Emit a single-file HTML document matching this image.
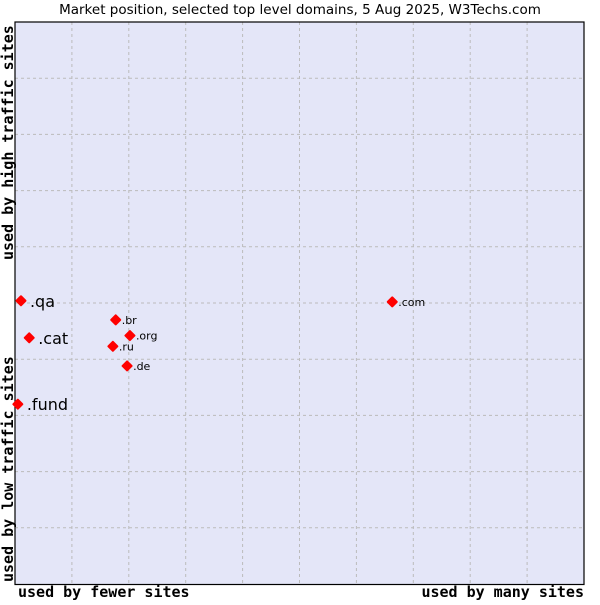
<!DOCTYPE html>
<html><head><meta charset="utf-8"><style>
body{margin:0;background:#fff;}
svg text{font-family:"DejaVu Sans","Liberation Sans",sans-serif;}
.mono{font-family:"DejaVu Sans Mono","Liberation Mono",monospace !important;font-size:15px;font-weight:bold;}
</style></head><body>
<svg width="600" height="600" xmlns="http://www.w3.org/2000/svg">
<text x="300" y="14" text-anchor="middle" font-size="13.5">Market position, selected top level domains, 5 Aug 2025, W3Techs.com</text>
<rect x="15" y="22" width="569" height="562" fill="#e4e6f8"/>
<g id="grid"></g>
<rect x="15" y="22" width="569" height="562.5" fill="none" stroke="#000" stroke-width="1.2"/>
<g id="pts"></g>
<text class="mono" x="18" y="597">used by fewer sites</text>
<text class="mono" x="584" y="597" text-anchor="end">used by many sites</text>
<text class="mono" transform="translate(13,260) rotate(-90)">used by high traffic sites</text>
<text class="mono" transform="translate(13,582) rotate(-90)">used by low traffic sites</text>
</svg>
<script>
const labels=[".qa",".cat",".fund",".br",".org",".ru",".de",".com"];
const xVals=[1.05,2.5,0.5,17.7,20.2,17.2,19.7,66.3];
const yVals=[50.4,43.8,32.0,47.0,44.2,42.3,38.8,50.2];
const bigLabel=[true,true,true,false,false,false,false,false];
const L=15,R=584,T=22,B=584;
const sx=v=>L+v/100*(R-L), sy=v=>B-v/100*(B-T);
const NS="http://www.w3.org/2000/svg";
const grid=document.getElementById('grid');
for(let i=1;i<10;i++){
 let l=document.createElementNS(NS,'line');
 l.setAttribute('x1',sx(i*10));l.setAttribute('x2',sx(i*10));l.setAttribute('y1',T);l.setAttribute('y2',B);
 l.setAttribute('stroke','#bbb');l.setAttribute('stroke-dasharray','3,3');
 
 
 grid.appendChild(l);
 let h=document.createElementNS(NS,'line');
 h.setAttribute('y1',sy(i*10));h.setAttribute('y2',sy(i*10));h.setAttribute('x1',L);h.setAttribute('x2',R);
 h.setAttribute('stroke','#bbb');h.setAttribute('stroke-dasharray','3,3');
 
 
 grid.appendChild(h);
}
const pts=document.getElementById('pts');
labels.forEach((lb,i)=>{
 const x=sx(xVals[i]),y=sy(yVals[i]);
 const p=document.createElementNS(NS,'polygon');
 p.setAttribute('points',`${x},${y-4.5} ${x+4.5},${y} ${x},${y+4.5} ${x-4.5},${y}`);
 p.setAttribute('fill','#ff0000');
 p.setAttribute('stroke','#ff0000');
 p.setAttribute('stroke-width','2');
 p.setAttribute('stroke-linejoin','round');
 
 
 pts.appendChild(p);
 const t=document.createElementNS(NS,'text');
 t.setAttribute('x',x+(bigLabel[i]?9:6));
 t.setAttribute('y',y+(bigLabel[i]?6:4));
 t.setAttribute('font-size',bigLabel[i]?16:11);
 t.textContent=lb;
 
 
 pts.appendChild(t);
});
</script>
</body></html>
